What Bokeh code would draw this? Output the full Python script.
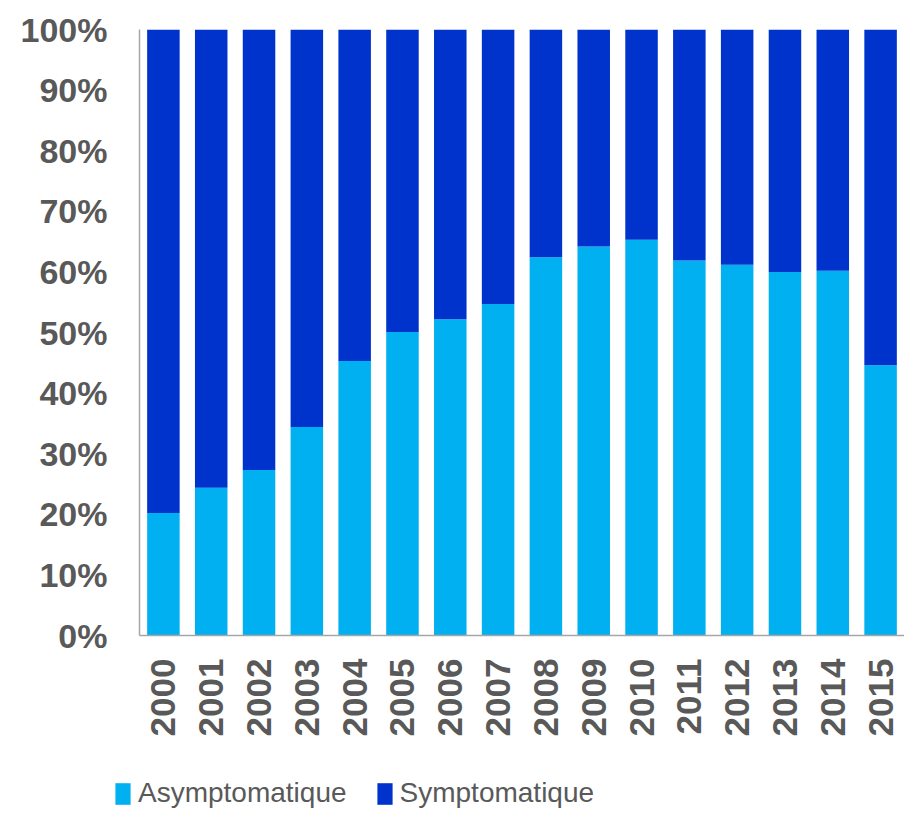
import math
from bokeh.plotting import figure
from bokeh.layouts import column
from bokeh.models import (Range1d, FixedTicker, NumeralTickFormatter, Legend, LegendItem,
                          ColumnDataSource)
from bokeh.embed import file_html
from bokeh.resources import INLINE

years = ["2000", "2001", "2002", "2003", "2004", "2005", "2006", "2007",
         "2008", "2009", "2010", "2011", "2012", "2013", "2014", "2015"]
asympto = [20.2, 24.4, 27.3, 34.4, 45.3, 50.1, 52.2, 54.7,
           62.4, 64.2, 65.3, 61.9, 61.2, 60.0, 60.2, 44.6]
sympto = [100 - a for a in asympto]
series_names = ["Asymptomatique", "Symptomatique"]
colors = ["#00B0F0", "#0033CC"]
y_ticks = [i / 10 for i in range(11)]

xs = list(range(len(years)))
src = ColumnDataSource(dict(
    x=xs,
    a=[v / 100 for v in asympto],
    s=[v / 100 for v in sympto],
))

p = figure(width=904, height=760, output_backend="svg", toolbar_location=None,
           x_range=Range1d(-0.5, 15.5), y_range=Range1d(0, 1),
           min_border_left=139, min_border_right=0, min_border_top=29,
           min_border_bottom=125)

rs = p.vbar_stack(["a", "s"], x="x", width=0.68, color=colors, source=src,
                  line_color=None)

p.xgrid.visible = False
p.ygrid.visible = False
p.outline_line_color = None
p.background_fill_color = "white"

label_color = "#595959"
for ax in (p.xaxis[0], p.yaxis[0]):
    ax.axis_line_color = "#A6A6A6"
    ax.axis_line_width = 1.5
    ax.major_tick_line_color = None
    ax.minor_tick_line_color = None
    ax.major_tick_out = 0
    ax.major_tick_in = 0
    ax.major_label_text_color = label_color
    ax.major_label_text_font = "Liberation Sans"
    ax.major_label_text_font_style = "bold"

p.yaxis.ticker = FixedTicker(ticks=y_ticks)
p.yaxis.formatter = NumeralTickFormatter(format="0%")
p.yaxis.major_label_text_font_size = "34px"
p.yaxis.major_label_standoff = 32

p.xaxis.ticker = FixedTicker(ticks=xs)
p.xaxis.major_label_overrides = {i: y for i, y in enumerate(years)}
p.xaxis.major_label_orientation = math.pi / 2
p.xaxis.major_label_text_font_size = "35px"
p.xaxis.major_label_standoff = 23

# legend strip below the chart (its bars are hidden; only the legend shows)
lg = figure(width=904, height=52, output_backend="svg", toolbar_location=None,
            min_border=0, x_range=Range1d(100, 101), y_range=Range1d(10, 11))
lg.frame_align = False
lg.axis.visible = False
lg.grid.visible = False
lg.outline_line_color = None
lrs = lg.vbar_stack(["a", "s"], x="x", width=0.68, color=colors, source=src,
                    line_color=None)
for r in lrs:
    r.visible = False

legend = Legend(items=[LegendItem(label=series_names[0], renderers=[lrs[0]]),
                       LegendItem(label=series_names[1], renderers=[lrs[1]])],
                orientation="horizontal", location=(113, 3),
                padding=0, margin=0, border_line_color=None,
                background_fill_alpha=0, glyph_width=19, glyph_height=27,
                label_standoff=6, spacing=28,
                label_text_font="Liberation Sans", label_text_font_size="28px",
                label_text_color=label_color)
lg.add_layout(legend, "center")

layout = column(p, lg, spacing=0)
open("out.html", "w").write(file_html(layout, INLINE))
